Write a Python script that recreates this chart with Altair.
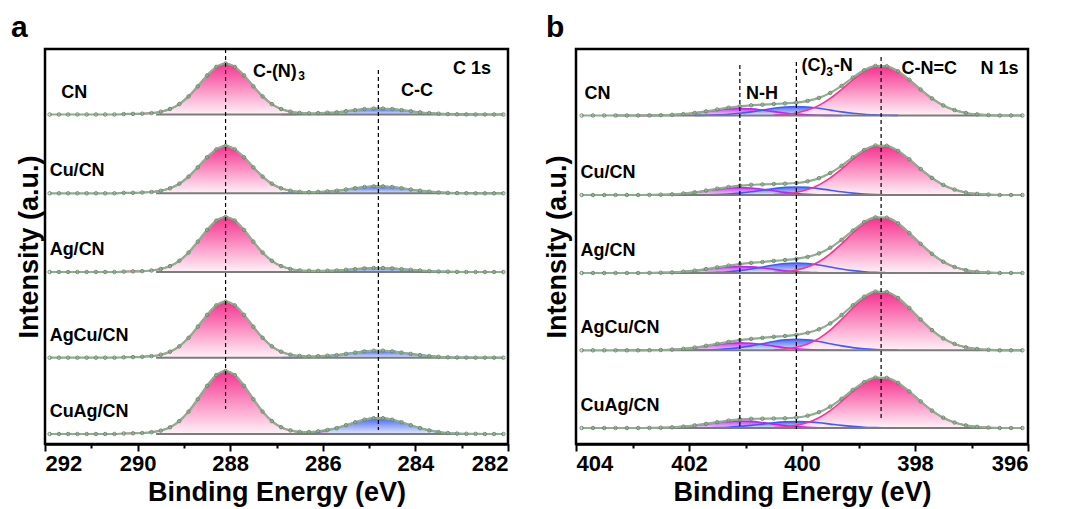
import altair as alt
import pandas as pd

FONT = "Liberation Sans"
SAMPLES = ["CN", "Cu/CN", "Ag/CN", "AgCu/CN", "CuAg/CN"]
STEP = 0.2

# ---------------- panel a : C 1s ----------------
C1S_FIRST_E = 291.9
C1S_POINTS = 50
C1S_BASE = [329.5, 250.7, 172.0, 86.3, 10.0]
C1S_PINK_FIRST_E = 290.3          # C-(N)3 component (288.1 eV)
C1S_PINK = [
    [0.4, 0.6, 0.8, 1.4, 2.8, 5.5, 10.4, 18.1, 28.2, 39.0, 47.6, 51.0, 47.6, 39.0, 28.2, 18.1, 10.4, 5.5, 2.8, 1.4, 0.8, 0.6, 0.4],
    [0.4, 0.5, 0.8, 1.3, 2.5, 5.0, 9.6, 16.7, 26.0, 36.0, 43.9, 47.5, 43.9, 36.0, 26.0, 16.7, 9.6, 5.0, 2.5, 1.3, 0.8, 0.5, 0.4],
    [0.4, 0.6, 0.9, 1.5, 3.0, 5.9, 11.2, 19.5, 30.4, 42.1, 51.4, 55.0, 51.4, 42.1, 30.4, 19.5, 11.2, 5.9, 3.0, 1.5, 0.9, 0.6, 0.4],
    [0.4, 0.6, 0.9, 1.6, 3.0, 6.0, 11.4, 19.9, 31.0, 42.8, 52.3, 56.0, 52.3, 42.8, 31.0, 19.9, 11.4, 6.0, 3.0, 1.6, 0.9, 0.6, 0.4],
    [0.5, 0.7, 1.0, 1.8, 3.4, 6.7, 12.9, 22.4, 34.8, 48.2, 58.8, 63.0, 58.8, 48.2, 34.8, 22.4, 12.9, 6.7, 3.4, 1.8, 1.0, 0.7, 0.5],
]
C1S_BLUE_FIRST_E = 286.9          # C-C component (284.8 eV)
C1S_BLUE = [
    [0.0, 0.1, 0.2, 0.4, 0.8, 1.4, 2.2, 3.3, 4.4, 5.4, 5.9, 5.9, 5.4, 4.4, 3.3, 2.2, 1.4, 0.8, 0.4, 0.2, 0.1, 0.0],
    [0.0, 0.1, 0.2, 0.4, 0.9, 1.6, 2.6, 3.8, 5.1, 6.3, 6.9, 6.9, 6.3, 5.1, 3.8, 2.6, 1.6, 0.9, 0.4, 0.2, 0.1, 0.0],
    [0.0, 0.0, 0.1, 0.3, 0.5, 0.9, 1.5, 2.2, 2.9, 3.6, 4.0, 4.0, 3.6, 2.9, 2.2, 1.5, 0.9, 0.5, 0.3, 0.1, 0.0, 0.0],
    [0.0, 0.1, 0.2, 0.4, 0.9, 1.6, 2.6, 3.8, 5.1, 6.3, 7.0, 7.0, 6.3, 5.1, 3.8, 2.6, 1.6, 0.9, 0.4, 0.2, 0.1, 0.0],
    [0.1, 0.2, 0.4, 1.0, 2.0, 3.6, 5.9, 8.8, 11.8, 14.3, 15.8, 15.8, 14.3, 11.8, 8.8, 5.9, 3.6, 2.0, 1.0, 0.4, 0.2, 0.1],
]
C1S_BG_RANGE = [289.6, 282.1]
C1S_TICKS = [292, 291, 290, 289, 288, 287, 286, 285, 284, 283, 282]
C1S_DASH_E = [288.1, 284.8]
C1S_DASH_TOP = [395, 374]
C1S_DASH_BOTTOM = [35, 14]
C1S_LABEL_E = [291.65, 291.9, 291.9, 291.9, 291.9]
C1S_PEAK_TEXT = ["C-(N)", "3", "C-C", "C 1s"]
C1S_PEAK_E = [287.51, 286.53, 284.31, 283.19]
C1S_PEAK_Y = [372, 368, 353, 375]
C1S_PEAK_SIZE = [18, 12, 18, 18]

# ---------------- panel b : N 1s ----------------
N1S_FIRST_E = 403.9
N1S_POINTS = 40
N1S_BASE = [328.5, 249.0, 171.0, 93.7, 16.0]
N1S_PURPLE_FIRST_E = 402.9        # N-H component (401.1 eV)
N1S_PURPLE = [
    [0.0, 0.1, 0.3, 0.7, 1.4, 2.5, 3.9, 5.4, 6.6, 7.0, 6.6, 5.4, 3.9, 2.5, 1.4, 0.7, 0.3, 0.1, 0.0],
    [0.0, 0.1, 0.3, 0.7, 1.5, 2.6, 4.2, 5.8, 7.0, 7.5, 7.0, 5.8, 4.2, 2.6, 1.5, 0.7, 0.3, 0.1, 0.0],
    [0.0, 0.1, 0.3, 0.6, 1.3, 2.3, 3.6, 5.0, 6.1, 6.5, 6.1, 5.0, 3.6, 2.3, 1.3, 0.6, 0.3, 0.1, 0.0],
    [0.0, 0.1, 0.3, 0.7, 1.5, 2.6, 4.2, 5.8, 7.0, 7.5, 7.0, 5.8, 4.2, 2.6, 1.5, 0.7, 0.3, 0.1, 0.0],
    [0.0, 0.1, 0.3, 0.7, 1.4, 2.5, 3.9, 5.4, 6.6, 7.0, 6.6, 5.4, 3.9, 2.5, 1.4, 0.7, 0.3, 0.1, 0.0],
]
N1S_BLUE_FIRST_E = 401.9          # (C)3-N component (400.1 eV)
N1S_BLUE = [
    [0.1, 0.2, 0.6, 1.2, 2.2, 3.6, 5.4, 7.2, 8.5, 9.0, 8.5, 7.2, 5.4, 3.6, 2.2, 1.2, 0.6, 0.2, 0.1],
    [0.1, 0.2, 0.5, 1.0, 1.9, 3.2, 4.8, 6.4, 7.6, 8.0, 7.6, 6.4, 4.8, 3.2, 1.9, 1.0, 0.5, 0.2, 0.1],
    [0.1, 0.3, 0.6, 1.3, 2.4, 4.0, 6.0, 8.0, 9.5, 10.0, 9.5, 8.0, 6.0, 4.0, 2.4, 1.3, 0.6, 0.3, 0.1],
    [0.1, 0.3, 0.7, 1.4, 2.7, 4.4, 6.6, 8.8, 10.4, 11.0, 10.4, 8.8, 6.6, 4.4, 2.7, 1.4, 0.7, 0.3, 0.1],
    [0.1, 0.2, 0.4, 0.8, 1.6, 2.6, 3.9, 5.2, 6.1, 6.5, 6.1, 5.2, 3.9, 2.6, 1.6, 0.8, 0.4, 0.2, 0.1],
]
N1S_PINK_FIRST_E = 400.5          # C-N=C component (398.6 eV)
N1S_PINK = [
    [0.4, 1.1, 2.5, 5.4, 10.1, 17.1, 26.0, 35.7, 44.0, 49.0, 49.0, 44.0, 35.7, 26.0, 17.1, 10.1, 5.4, 2.5, 1.1, 0.4],
    [0.4, 1.1, 2.5, 5.4, 10.1, 17.1, 26.0, 35.7, 44.0, 49.0, 49.0, 44.0, 35.7, 26.0, 17.1, 10.1, 5.4, 2.5, 1.1, 0.4],
    [0.5, 1.2, 2.9, 6.0, 11.3, 19.2, 29.2, 40.0, 49.5, 55.0, 55.0, 49.5, 40.0, 29.2, 19.2, 11.3, 6.0, 2.9, 1.2, 0.5],
    [0.5, 1.3, 3.0, 6.4, 11.9, 20.2, 30.8, 42.3, 52.2, 58.0, 58.0, 52.2, 42.3, 30.8, 20.2, 11.9, 6.4, 3.0, 1.3, 0.5],
    [0.4, 1.1, 2.6, 5.5, 10.3, 17.4, 26.6, 36.5, 45.0, 50.0, 50.0, 45.0, 36.5, 26.6, 17.4, 10.3, 5.5, 2.6, 1.1, 0.4],
]
N1S_BG_RANGE = [403.3, 396.1]
N1S_TICKS = [404, 403, 402, 401, 400, 399, 398, 397, 396]
N1S_DASH_E = [401.1, 400.1, 398.6]
N1S_DASH_TOP = [379, 382, 387]
N1S_DASH_BOTTOM = [17, 15, 25]
N1S_LABEL_E = [403.85, 403.92, 403.92, 403.92, 403.92]
N1S_PEAK_TEXT = ["N-H", "(C)", "3", "-N", "C-N=C", "N 1s"]
N1S_PEAK_E = [400.99, 400.01, 399.57, 399.44, 398.24, 396.84]
N1S_PEAK_Y = [350, 378, 372, 378, 375, 375]
N1S_PEAK_SIZE = [18, 18, 12, 18, 18, 18]

LABEL_LIFT = 22

# component styles: (top colour, bottom colour, outline colour)
STYLE = {
    "pink": ("#f5338f", "#fff2f8", "#ff2f96"),
    "blue": ("#4a69f5", "#e3e8ff", "#3c5cff"),
    "purple": ("#c93cf5", "#f0d4ff", "#cc1ef0"),
}
ENV_COLOR = "#8fae8f"
DOT_COLOR = "#6c8a6c"
BG_COLOR = "#7c7c7c"


def energies(first, n):
    return [round(first - STEP * i, 1) for i in range(n)]


def build(first_e, npts, bases, comps):
    grid = energies(first_e, npts)
    env_rows, comp_rows = [], []
    for si, s in enumerate(SAMPLES):
        tot = {e: bases[si] for e in grid}
        for name, cfirst, lists in comps:
            vals = lists[si]
            for e, v in zip(energies(cfirst, len(vals)), vals):
                tot[e] = tot[e] + v
                comp_rows.append({"sample": s, "comp": name, "E": e,
                                  "Y": bases[si] + v, "Y2": bases[si]})
        for e in grid:
            env_rows.append({"sample": s, "E": e, "Y": tot[e]})
    return pd.DataFrame(env_rows), pd.DataFrame(comp_rows)


def make_panel(first_e, npts, bases, comps, bg_range, ticks,
               dash_e, dash_top, dash_bot, label_e, peak_text, peak_e,
               peak_y, peak_size, letter, letter_dx, width, ytitle_pad):
    env, comp = build(first_e, npts, bases, comps)
    names = [c[0] for c in comps]
    xs = alt.Scale(domain=[min(ticks), max(ticks)], reverse=True, nice=False, zero=False)
    ys = alt.Scale(domain=[0, 395], nice=False, zero=False)
    xaxis = alt.Axis(
        values=ticks, title="Binding Energy (eV)", grid=False,
        labelExpr="datum.value % 2 === 0 ? datum.label : ''",
        tickSize={"condition": {"test": "datum.value % 2 === 0", "value": 7}, "value": 4},
        labelPadding=2, titleY=35, titleBaseline="top",
    )
    yaxis = alt.Axis(title="Intensity (a.u.)", labels=False, ticks=False,
                     domain=False, grid=False, titlePadding=ytitle_pad)
    X = alt.X("E:Q", scale=xs, axis=xaxis)
    Y = alt.Y("Y:Q", scale=ys, axis=yaxis)

    layers = []
    for name in names:
        top, bottom, _ = STYLE[name]
        d = comp[comp["comp"] == name]
        grad = alt.Gradient(
            gradient="linear",
            stops=[alt.GradientStop(color=bottom, offset=0),
                   alt.GradientStop(color=top, offset=1)],
            x1=1, x2=1, y1=1, y2=0)
        layers.append(alt.Chart(d).mark_area(color=grad, interpolate="monotone")
                      .encode(x=X, y=Y, y2=alt.Y2("Y2:Q"), detail="sample:N"))
    for name in names:
        d = comp[comp["comp"] == name]
        layers.append(alt.Chart(d).mark_line(color=STYLE[name][2], strokeWidth=1.6,
                                             interpolate="monotone")
                      .encode(x=X, y=Y, detail="sample:N"))

    bg = pd.DataFrame([{"sample": s, "E": e, "Y": bases[i]}
                       for i, s in enumerate(SAMPLES) for e in bg_range])
    layers.append(alt.Chart(bg).mark_line(color=BG_COLOR, strokeWidth=2)
                  .encode(x=X, y=Y, detail="sample:N"))
    layers.append(alt.Chart(env).mark_line(color=ENV_COLOR, strokeWidth=2.2,
                                           interpolate="monotone")
                  .encode(x=X, y=Y, detail="sample:N"))
    layers.append(alt.Chart(env).mark_point(shape="circle", filled=False, size=12,
                                            strokeWidth=1, color=DOT_COLOR, opacity=1)
                  .encode(x=X, y=Y))

    dash = pd.DataFrame({"E": dash_e, "Y": dash_top, "Y2": dash_bot})
    layers.append(alt.Chart(dash).mark_rule(color="black", strokeDash=[4, 3], strokeWidth=1.2)
                  .encode(x=X, y=Y, y2=alt.Y2("Y2:Q")))

    lab = pd.DataFrame({"sample": SAMPLES, "E": label_e,
                        "Y": [b + LABEL_LIFT for b in bases]})
    layers.append(alt.Chart(lab).mark_text(align="left", baseline="middle", fontSize=18,
                                           fontWeight="bold", font=FONT, color="black")
                  .encode(x=X, y=Y, text="sample:N"))

    pk = pd.DataFrame({"t": peak_text, "E": peak_e, "Y": peak_y, "fs": peak_size})
    layers.append(alt.Chart(pk).mark_text(align="left", baseline="middle",
                                          fontWeight="bold", font=FONT, color="black")
                  .encode(x=X, y=Y, text="t:N",
                          size=alt.Size("fs:Q", scale=None, legend=None)))

    let = pd.DataFrame({"t": [letter]})
    layers.append(alt.Chart(let).mark_text(align="left", baseline="alphabetic", fontSize=30,
                                           fontWeight="bold", font=FONT, color="black")
                  .encode(x=alt.value(letter_dx), y=alt.value(-12), text="t:N"))

    return alt.layer(*layers).properties(width=width, height=395)


left = make_panel(
    C1S_FIRST_E, C1S_POINTS, C1S_BASE,
    [("pink", C1S_PINK_FIRST_E, C1S_PINK), ("blue", C1S_BLUE_FIRST_E, C1S_BLUE)],
    C1S_BG_RANGE, C1S_TICKS,
    C1S_DASH_E, C1S_DASH_TOP, C1S_DASH_BOTTOM, C1S_LABEL_E,
    C1S_PEAK_TEXT, C1S_PEAK_E, C1S_PEAK_Y, C1S_PEAK_SIZE, "a", -34, 463, 2)

right = make_panel(
    N1S_FIRST_E, N1S_POINTS, N1S_BASE,
    [("purple", N1S_PURPLE_FIRST_E, N1S_PURPLE), ("blue", N1S_BLUE_FIRST_E, N1S_BLUE),
     ("pink", N1S_PINK_FIRST_E, N1S_PINK)],
    N1S_BG_RANGE, N1S_TICKS,
    N1S_DASH_E, N1S_DASH_TOP, N1S_DASH_BOTTOM, N1S_LABEL_E,
    N1S_PEAK_TEXT, N1S_PEAK_E, N1S_PEAK_Y, N1S_PEAK_SIZE, "b", -30, 452, 5)

chart = (
    alt.hconcat(left, right, spacing=30)
    .properties(padding={"left": 1, "top": 3, "right": 2, "bottom": 0})
    .configure_view(stroke="black", strokeWidth=2.5)
    .configure_axis(domainColor="black", domainWidth=2.5, tickColor="black", tickWidth=2,
                    labelFont=FONT, labelFontWeight="bold", labelFontSize=22,
                    labelColor="black", titleFont=FONT, titleFontWeight="bold",
                    titleFontSize=27, titleColor="black")
)

chart.save("out.html", embed_options={"renderer": "svg", "actions": False})
